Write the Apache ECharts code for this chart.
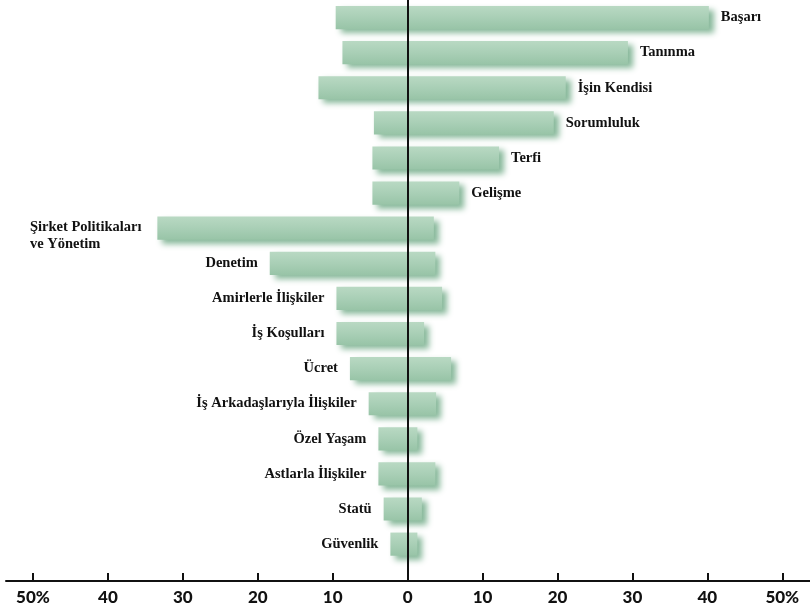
<!DOCTYPE html>
<html>
<head>
<meta charset="utf-8">
<script src="https://cdn.jsdelivr.net/npm/echarts@6/dist/echarts.min.js"></script>
<style>
  html, body { margin: 0; padding: 0; background: #fff; }
  #chart { width: 810px; height: 612px; }
</style>
</head>
<body>
<div id="chart"></div>
<script>
// Factors, top to bottom
const categories = [
  'Başarı', 'Tanınma', 'İşin Kendisi', 'Sorumluluk', 'Terfi', 'Gelişme',
  'Şirket Politikaları\nve Yönetim', 'Denetim', 'Amirlerle İlişkiler', 'İş Koşulları',
  'Ücret', 'İş Arkadaşlarıyla İlişkiler', 'Özel Yaşam', 'Astlarla İlişkiler', 'Statü', 'Güvenlik'
];
// Share (%) extending to the left of zero
const leftValues = [9.6, 8.7, 11.9, 4.5, 4.7, 4.7, 33.4, 18.4, 9.5, 9.5, 7.7, 5.2, 3.9, 3.9, 3.2, 2.3];
// Share (%) extending to the right of zero
const rightValues = [40.2, 29.4, 21.1, 19.5, 12.2, 6.9, 3.5, 3.7, 4.6, 2.2, 5.8, 3.8, 1.3, 3.7, 1.9, 1.3];
// Axis tick positions and their labels
const tickValues = [-50, -40, -30, -20, -10, 0, 10, 20, 30, 40, 50];
const tickLabels = ['50%', '40', '30', '20', '10', '0', '10', '20', '30', '40', '50%'];

const chart = echarts.init(document.getElementById('chart'), null, { renderer: 'canvas' });

const barData = categories.map((name, i) => [-leftValues[i], rightValues[i], i]);

const labelFont = 'bold 14.5px "Liberation Serif", "Times New Roman", serif';

function renderBar(params, api) {
  const i = params.dataIndex;
  const lo = api.value(0);
  const hi = api.value(1);
  const idx = api.value(2);
  const p0 = api.coord([lo, idx]);
  const p1 = api.coord([hi, idx]);
  const h = api.size([0, 0.66])[1];
  const top = p0[1] - h / 2;
  const name = categories[i];
  const onRight = rightValues[i] > leftValues[i];
  const gap = 12;

  const children = [{
    type: 'rect',
    shape: { x: p0[0], y: top, width: p1[0] - p0[0], height: h },
    style: {
      fill: new echarts.graphic.LinearGradient(0, 0, 0, 1, [
        { offset: 0, color: '#b9d9c3' },
        { offset: 0.5, color: '#a9cfb6' },
        { offset: 1, color: '#98c4a7' }
      ]),
      shadowColor: 'rgba(95,160,120,0.75)',
      shadowBlur: 6,
      shadowOffsetX: 5,
      shadowOffsetY: 4
    }
  }];

  let textStyle;
  if (name.indexOf('\n') >= 0) {
    // multi-line name sits at the left edge of the scale, top aligned with its bar
    const edge = api.coord([-50, idx])[0] - 3;
    textStyle = { text: name, x: edge, y: top + 2, align: 'left', verticalAlign: 'top', lineHeight: 17 };
  } else if (onRight) {
    textStyle = { text: name, x: p1[0] + gap, y: p0[1], align: 'left', verticalAlign: 'middle' };
  } else {
    textStyle = { text: name, x: p0[0] - gap, y: p0[1], align: 'right', verticalAlign: 'middle' };
  }
  textStyle.font = labelFont;
  textStyle.fill = '#111';
  children.push({ type: 'text', style: textStyle });

  return { type: 'group', children };
}

chart.setOption({
  animation: false,
  backgroundColor: '#ffffff',
  grid: { left: 6, right: 0, top: 0, bottom: 31, containLabel: false },
  xAxis: {
    type: 'value',
    min: -53.6,
    max: 53.7,
    axisLine: { onZero: false, lineStyle: { color: '#111', width: 2 } },
    axisTick: {
      show: true, inside: true, length: 8,
      lineStyle: { color: '#111', width: 2 },
      customValues: tickValues
    },
    axisLabel: {
      margin: 8,
      color: '#111',
      fontFamily: 'Lato, "DejaVu Sans", sans-serif',
      fontWeight: 900,
      fontSize: 17,
      customValues: tickValues,
      formatter: (v) => {
        const k = tickValues.indexOf(Math.round(v));
        return k >= 0 ? tickLabels[k] : '';
      }
    },
    splitLine: { show: false }
  },
  yAxis: {
    type: 'value',
    inverse: true,
    min: -0.5,
    max: 16.05,
    z: 10,
    axisLine: { show: true, onZero: true, lineStyle: { color: '#111', width: 2 } },
    axisTick: { show: false },
    axisLabel: { show: false },
    splitLine: { show: false }
  },
  series: [{
    type: 'custom',
    renderItem: renderBar,
    encode: { x: [0, 1], y: 2 },
    data: barData,
    clip: false
  }]
});
</script>
</body>
</html>
